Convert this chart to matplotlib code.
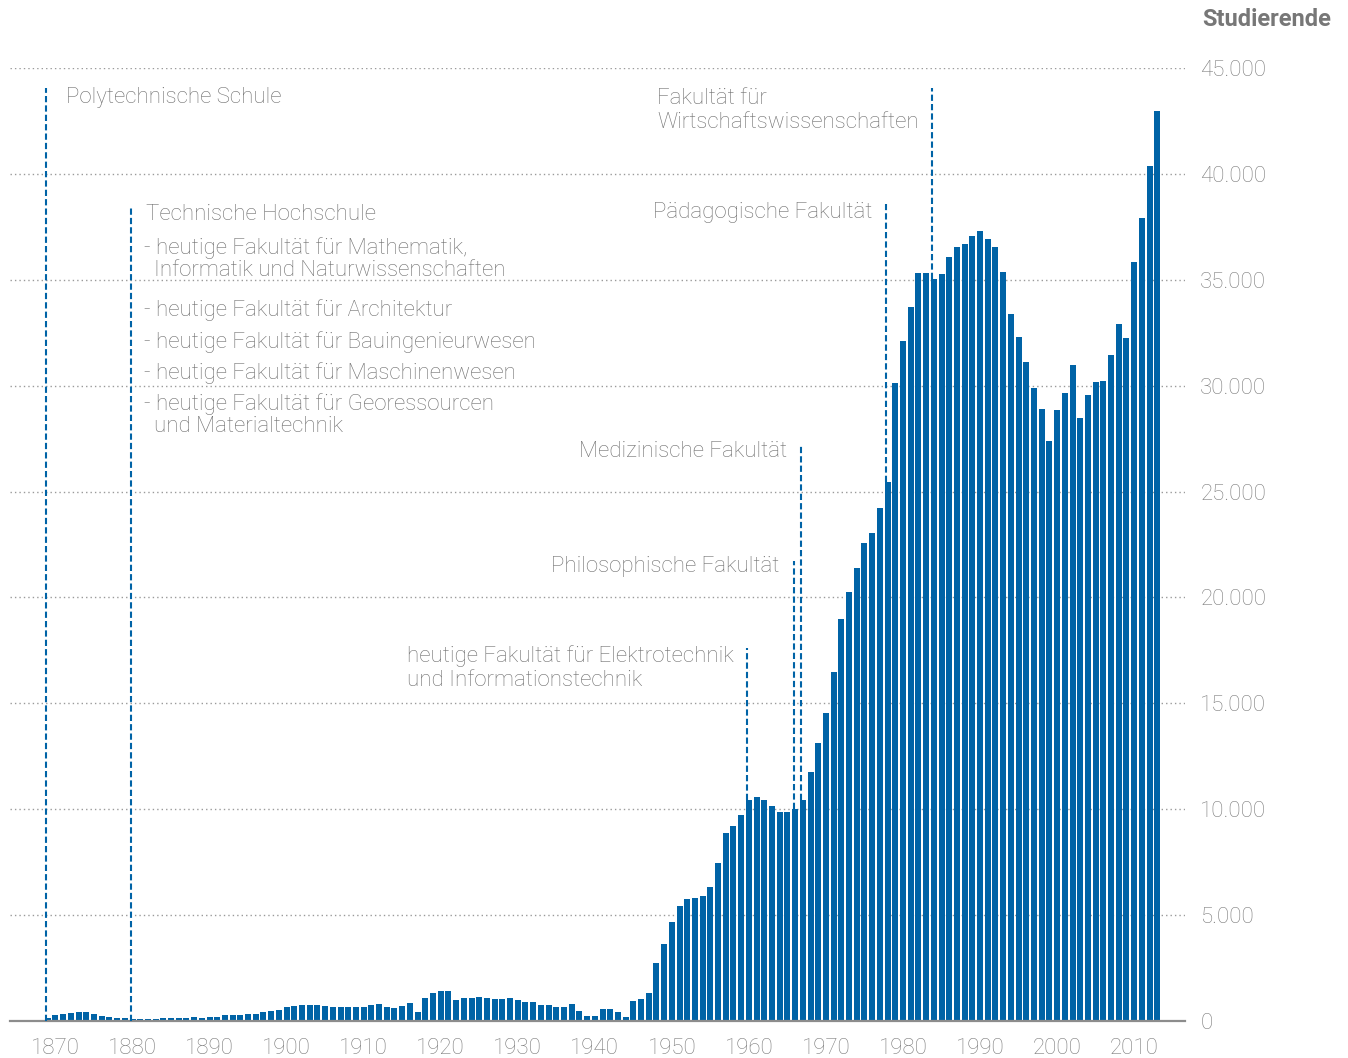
import matplotlib.pyplot as plt
from matplotlib.patches import Rectangle
from matplotlib.ticker import FuncFormatter

plt.rcParams['font.family'] = ['Roboto', 'DejaVu Sans']
plt.rcParams['font.weight'] = 'light'

years = list(range(1869, 2014))
students = (
    [140, 280, 330, 380, 420, 420, 330, 240, 190, 140, 140]            # 1869-1879
    + [100, 100, 100, 100, 140, 140, 140, 140, 190, 140]               # 1880-1889
    + [190, 190, 280, 280, 280, 330, 330, 420, 470, 520]               # 1890-1899
    + [660, 710, 760, 760, 760, 710, 660, 660, 660, 660]               # 1900-1909
    + [660, 760, 800, 660, 610, 710, 850, 420, 1090, 1320]             # 1910-1919
    + [1420, 1420, 990, 1090, 1090, 1130, 1090, 1040, 1040, 1090]      # 1920-1929
    + [990, 900, 900, 760, 760, 660, 660, 800, 470, 240]               # 1930-1939
    + [240, 570, 570, 420, 190, 940, 1040, 1320, 2740, 3640]           # 1940-1949
    + [4680, 5430, 5760, 5810, 5900, 6330, 7460, 8880, 9210, 9730]     # 1950-1959
    + [10440, 10580, 10440, 10150, 9870, 9860, 10030, 10430, 11750, 13120]  # 1960-1969
    + [14540, 16500, 18990, 20260, 21390, 22590, 23050, 24240, 25430, 30140]  # 1970-1979
    + [32130, 33730, 35340, 35310, 35050, 35260, 36060, 36530, 36680, 37050]  # 1980-1989
    + [37280, 36920, 36530, 35390, 33370, 32310, 31100, 29910, 28920, 27400]  # 1990-1999
    + [28850, 29670, 30970, 28460, 29570, 30190, 30240, 31430, 32930, 32230]  # 2000-2009
    + [35830, 37900, 40380, 42980]                                     # 2010-2013
)
assert len(students) == len(years)

x_ticks = list(range(1870, 2011, 10))
y_ticks = list(range(0, 45001, 5000))

# founding events: year, top of dashed line
event_years = [1869, 1880, 1960, 1966, 1967, 1978, 1984]
event_tops = [44050, 38440, 17610, 21720, 27200, 38580, 44050]

BLUE = "#0063a6"
GREY = "#6f6f6f"

fig = plt.figure(figsize=(13.48, 10.58), dpi=100)
ax = fig.add_axes([10 / 1348, 1 - 1021 / 1058, 1175 / 1348, 953 / 1058])

ax.bar(years, students, width=0.78, color=BLUE, zorder=3)

ax.set_xlim(1864.1, 2016.6)
ax.set_ylim(0, 45000)

ax.set_yticks(y_ticks)
ax.yaxis.tick_right()
ax.yaxis.set_major_formatter(FuncFormatter(lambda v, p: f"{int(v):,}".replace(",", ".")))
ax.set_xticks(x_ticks)
ax.tick_params(axis="both", length=0, labelsize=16, labelcolor="#7c7c7c")
ax.tick_params(axis="y", pad=11)
ax.tick_params(axis="x", pad=12)
for lbl in ax.get_yticklabels():
    lbl.set_horizontalalignment("left")

ax.yaxis.grid(True, linestyle=(0, (1, 2.2)), color="#9a9a9a", lw=1.0, zorder=0)
for s in ["top", "right", "left"]:
    ax.spines[s].set_visible(False)
ax.spines["bottom"].set_color("#8c8c8c")
ax.spines["bottom"].set_linewidth(1.6)
ax.spines["bottom"].set_zorder(4)

# white panel behind the Technische Hochschule list
ax.add_patch(Rectangle((1880.2, 27435), 1934.9 - 1880.2, 38770 - 27435,
                       facecolor="white", edgecolor="none", zorder=1))

# dashed event lines
for yr, top in zip(event_years, event_tops):
    bottom = 0 if yr < 1900 else students[years.index(yr)]
    ax.vlines(yr - 0.2, bottom, top, colors=BLUE, lw=1.5,
              linestyles=(0, (3, 1.5)), zorder=5)

txt = dict(fontsize=16, color=GREY, va="center", zorder=6)

ax.annotate("Polytechnische Schule", (1869, 43630), xytext=(13, 0),
            textcoords="offset points", ha="left", **txt)

ax.annotate("Technische Hochschule", (1880, 38060), xytext=(10, 0),
            textcoords="offset points", ha="left", **txt)
th_lines = [
    ("- heutige Fakultät für Mathematik,", 36500, 8),
    ("Informatik und Naturwissenschaften", 35415, 15.5),
    ("- heutige Fakultät für Architektur", 33570, 8),
    ("- heutige Fakultät für Bauingenieurwesen", 32060, 8),
    ("- heutige Fakultät für Maschinenwesen", 30600, 8),
    ("- heutige Fakultät für Georessourcen", 29135, 8),
    ("und Materialtechnik", 28050, 15.5),
]
for s, yv, dx in th_lines:
    ax.annotate(s, (1880, yv), xytext=(dx, 0), textcoords="offset points",
                ha="left", **txt)

right_labels = [
    ("Fakultät für\nWirtschaftswissenschaften", 1984, 43000),
    ("Pädagogische Fakultät", 1978, 38200),
    ("Medizinische Fakultät", 1967, 26915),
    ("Philosophische Fakultät", 1966, 21440),
    ("heutige Fakultät für Elektrotechnik\nund Informationstechnik", 1960, 16680),
]
for s, yr, yv in right_labels:
    ax.annotate(s, (yr, yv), xytext=(-11, 0), textcoords="offset points",
                ha="right", multialignment="left", linespacing=1.2, **txt)

fig.text(1331 / 1348, 1 - 20 / 1058, "Studierende", ha="right", va="center",
         fontsize=17, fontweight="bold", color="#777777")

fig.savefig("out.png", dpi=100)
